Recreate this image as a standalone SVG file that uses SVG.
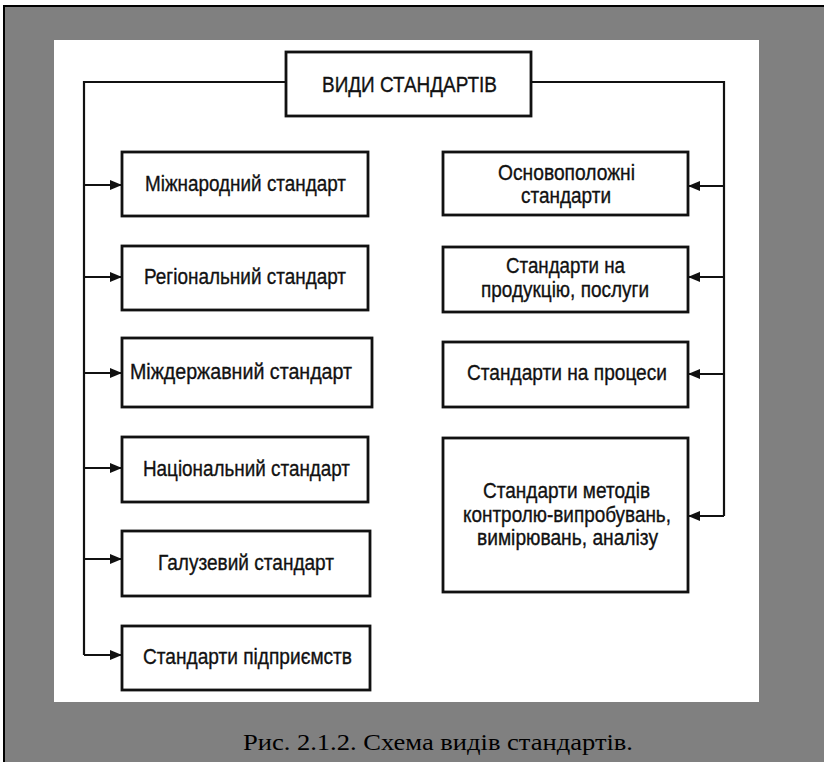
<svg xmlns="http://www.w3.org/2000/svg" width="824" height="762" viewBox="0 0 824 762">
<defs>
<style>
.box{fill:#fff;stroke:#111;stroke-width:2.8}
.t{font-family:"Liberation Sans Narrow","Liberation Sans",Arial,sans-serif;font-size:22px;fill:#111;stroke:#111;stroke-width:0.35}
.ln{fill:none;stroke:#111;stroke-width:2.2}
.cap{font-family:"Liberation Serif","Times New Roman",serif;font-size:23px;fill:#000}
</style>
<marker id="ah" viewBox="0 0 12 10" refX="12" refY="5" markerWidth="12" markerHeight="10" markerUnits="userSpaceOnUse" orient="auto">
<path d="M0,0 L12,5 L0,10 z" fill="#111"/>
</marker>
</defs>
<rect x="0" y="0" width="824" height="762" fill="#fff"/>
<rect x="4" y="6" width="820" height="756" fill="#808080"/>
<line x1="4" y1="6" x2="824" y2="6" stroke="#000" stroke-width="2"/>
<line x1="4" y1="5" x2="4" y2="762" stroke="#000" stroke-width="2"/>
<rect x="54" y="40" width="705" height="662" fill="#fff"/>

<g id="connectors">
<polyline class="ln" points="286,82 84,82 84,655"/>
<polyline class="ln" points="531,82 724,82 724,516"/>
<line class="ln" x1="84" y1="185" x2="122" y2="185" marker-end="url(#ah)"/>
<line class="ln" x1="84" y1="277" x2="122" y2="277" marker-end="url(#ah)"/>
<line class="ln" x1="84" y1="373" x2="122" y2="373" marker-end="url(#ah)"/>
<line class="ln" x1="84" y1="468" x2="122" y2="468" marker-end="url(#ah)"/>
<line class="ln" x1="84" y1="559" x2="122" y2="559" marker-end="url(#ah)"/>
<line class="ln" x1="84" y1="655" x2="122" y2="655" marker-end="url(#ah)"/>
<line class="ln" x1="724" y1="186" x2="688" y2="186" marker-end="url(#ah)"/>
<line class="ln" x1="724" y1="277" x2="688" y2="277" marker-end="url(#ah)"/>
<line class="ln" x1="724" y1="374" x2="688" y2="374" marker-end="url(#ah)"/>
<line class="ln" x1="724" y1="516" x2="688" y2="516" marker-end="url(#ah)"/>
</g>

<g id="root">
<rect class="box" x="286" y="52" width="245" height="64"/>
<text class="t" x="322" y="92" textLength="175" lengthAdjust="spacingAndGlyphs">ВИДИ СТАНДАРТІВ</text>
</g>

<g id="n-mizhnar">
<rect class="box" x="122" y="152" width="246" height="64"/>
<text class="t" x="145" y="191" textLength="201" lengthAdjust="spacingAndGlyphs">Міжнародний стандарт</text>
</g>
<g id="n-region">
<rect class="box" x="122" y="246" width="246" height="64"/>
<text class="t" x="144" y="284" textLength="202" lengthAdjust="spacingAndGlyphs">Регіональний стандарт</text>
</g>
<g id="n-mizhderzh">
<rect class="box" x="122" y="338" width="250" height="69"/>
<text class="t" x="130" y="379" textLength="222" lengthAdjust="spacingAndGlyphs">Міждержавний стандарт</text>
</g>
<g id="n-nats">
<rect class="box" x="122" y="437" width="246" height="65"/>
<text class="t" x="143" y="476" textLength="207" lengthAdjust="spacingAndGlyphs">Національний стандарт</text>
</g>
<g id="n-galuz">
<rect class="box" x="122" y="531" width="248" height="65"/>
<text class="t" x="158" y="570" textLength="176" lengthAdjust="spacingAndGlyphs">Галузевий стандарт</text>
</g>
<g id="n-pidpr">
<rect class="box" x="122" y="626" width="248" height="64"/>
<text class="t" x="143" y="664" textLength="209" lengthAdjust="spacingAndGlyphs">Стандарти підприємств</text>
</g>

<g id="n-osnov">
<rect class="box" x="443" y="152" width="245" height="63"/>
<text class="t" x="498" y="180" textLength="137" lengthAdjust="spacingAndGlyphs">Основоположні</text>
<text class="t" x="521" y="203" textLength="90" lengthAdjust="spacingAndGlyphs">стандарти</text>
</g>
<g id="n-prod">
<rect class="box" x="443" y="247" width="245" height="65"/>
<text class="t" x="506" y="273" textLength="119" lengthAdjust="spacingAndGlyphs">Стандарти на</text>
<text class="t" x="481" y="297" textLength="168" lengthAdjust="spacingAndGlyphs">продукцію, послуги</text>
</g>
<g id="n-proc">
<rect class="box" x="443" y="342" width="245" height="65"/>
<text class="t" x="467" y="380" textLength="200" lengthAdjust="spacingAndGlyphs">Стандарти на процеси</text>
</g>
<g id="n-metod">
<rect class="box" x="443" y="438" width="245" height="154"/>
<text class="t" x="483" y="498" textLength="167" lengthAdjust="spacingAndGlyphs">Стандарти методів</text>
<text class="t" x="463" y="522" textLength="208" lengthAdjust="spacingAndGlyphs">контролю-випробувань,</text>
<text class="t" x="477" y="545" textLength="181" lengthAdjust="spacingAndGlyphs">вимірювань, аналізу</text>
</g>

<text class="cap" x="243" y="750" textLength="390" lengthAdjust="spacingAndGlyphs">Рис. 2.1.2. Схема видів стандартів.</text>
</svg>
